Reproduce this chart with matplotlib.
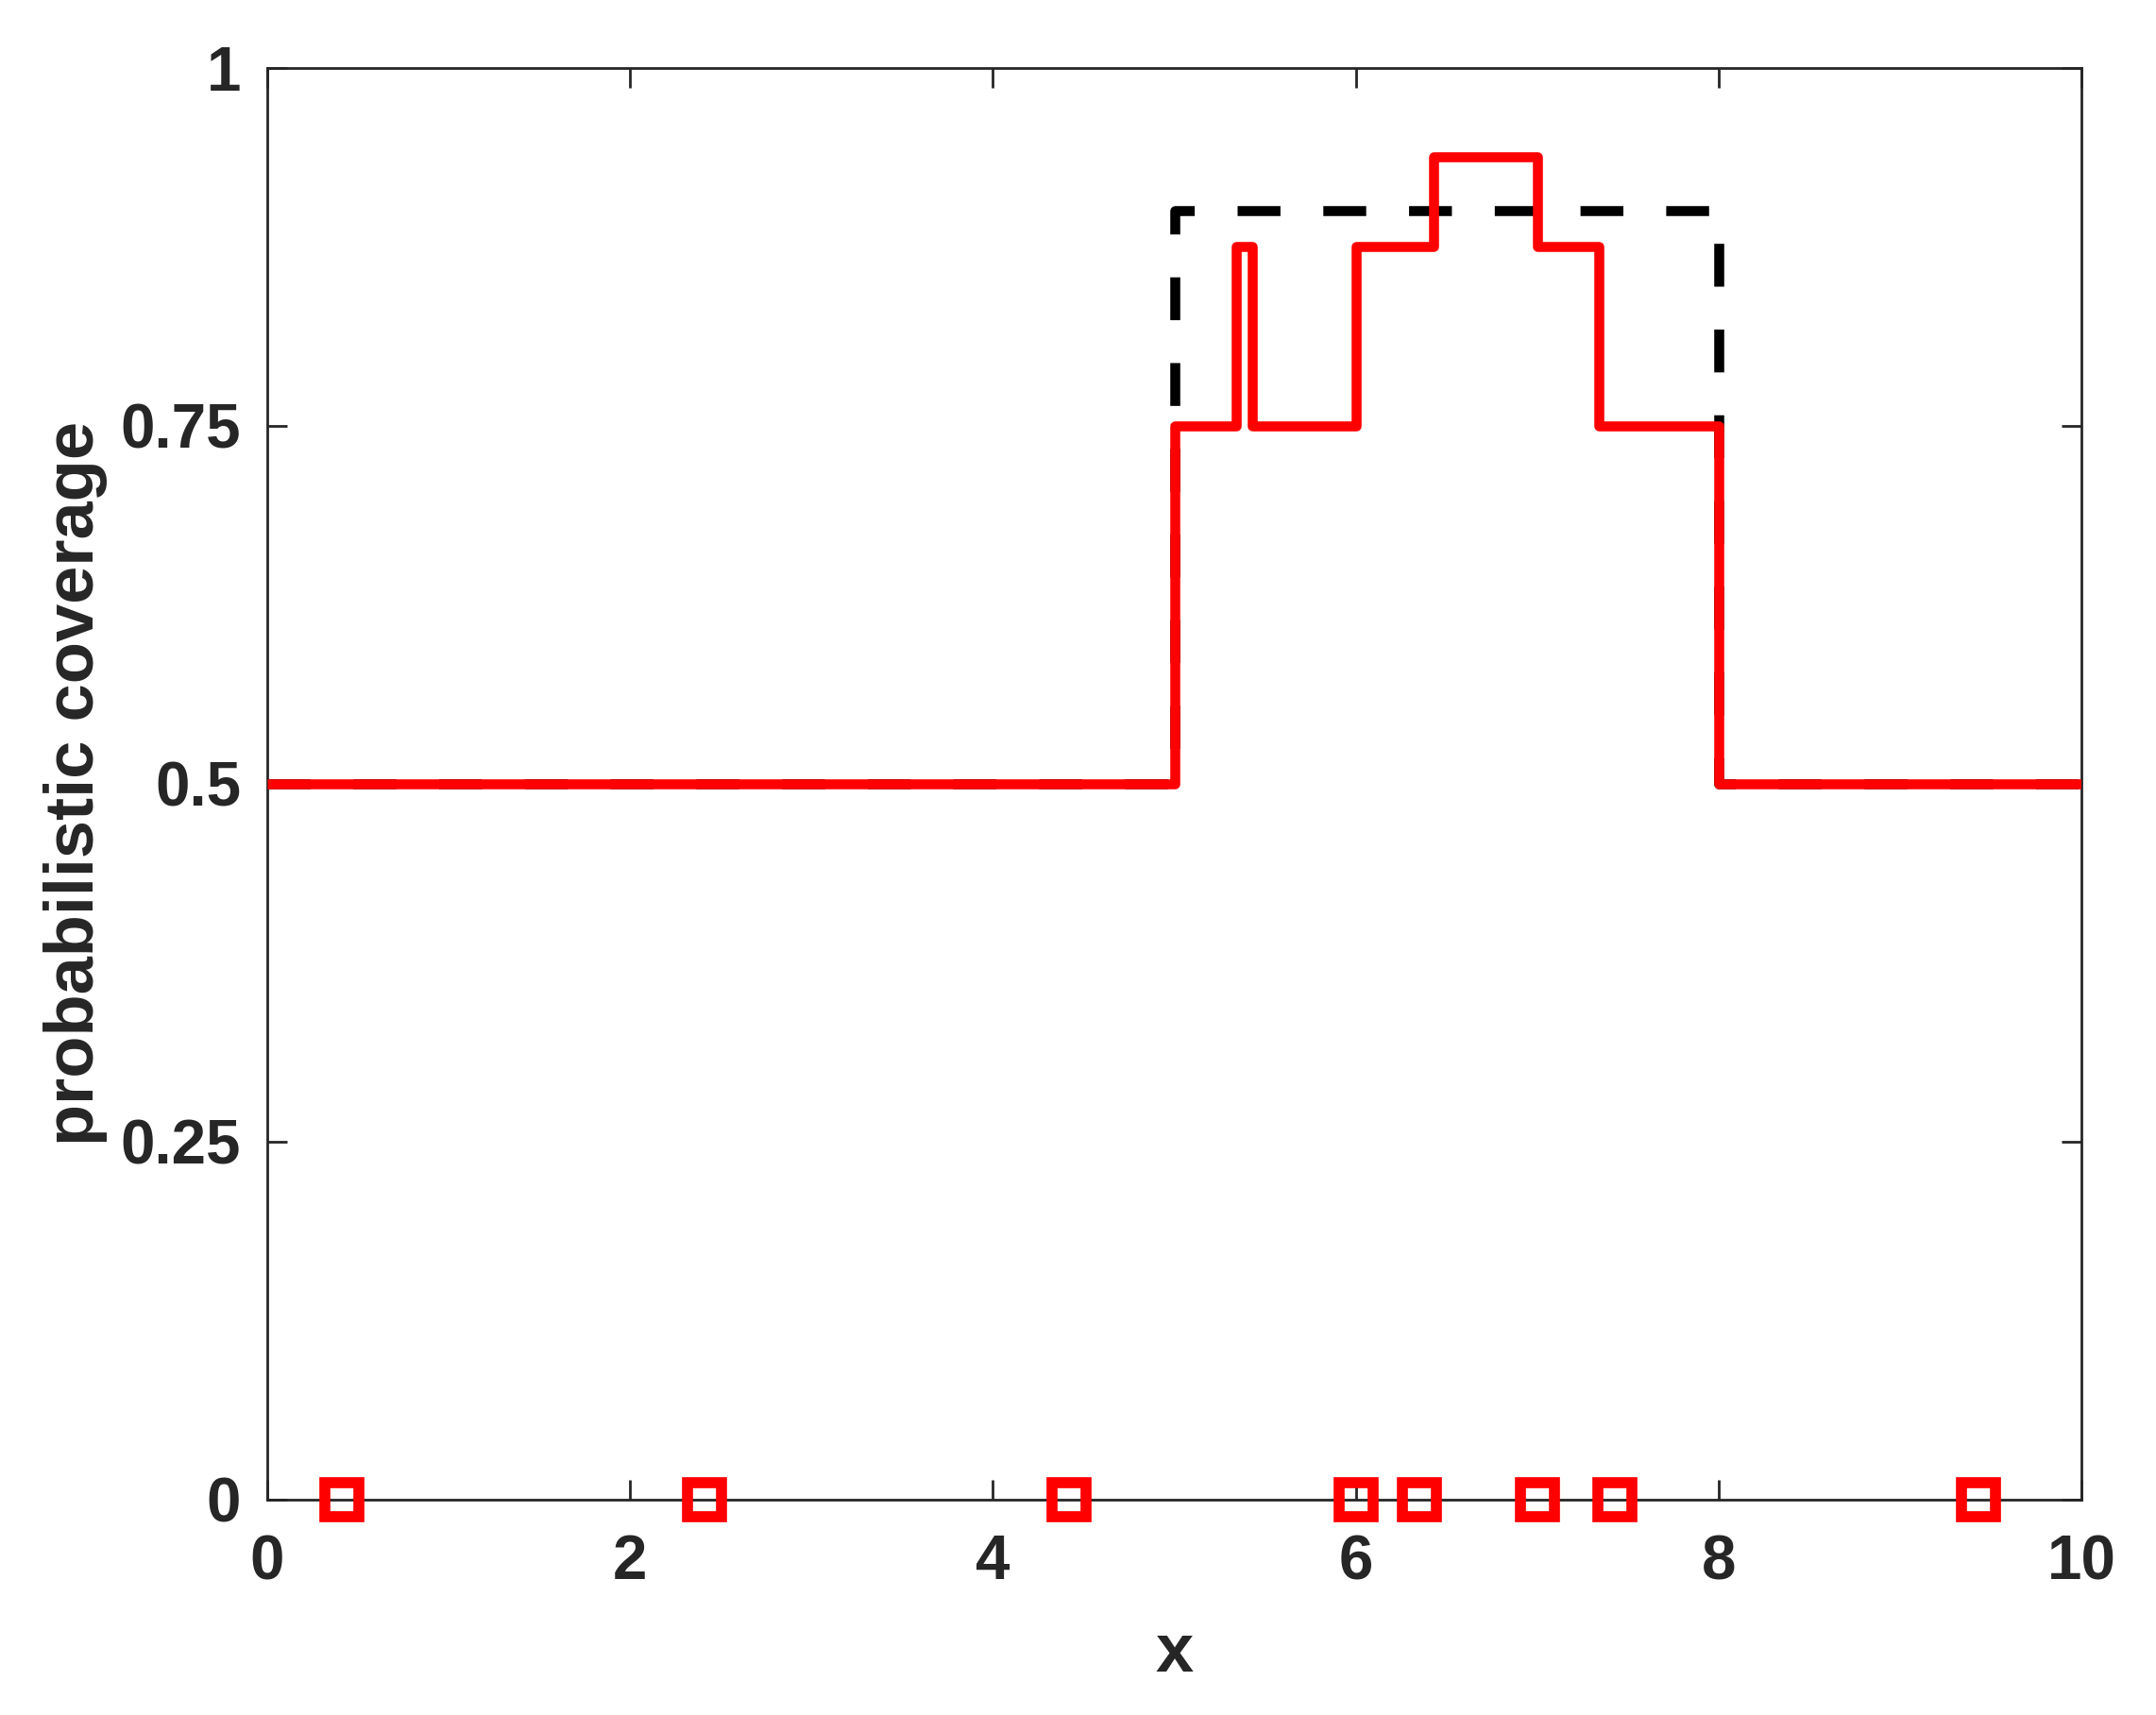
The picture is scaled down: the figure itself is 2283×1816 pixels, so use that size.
import matplotlib
matplotlib.use("Agg")
import matplotlib.pyplot as plt

# ---- data ----
step_x = [0.0, 5.0, 5.34, 5.43, 6.0, 6.43, 7.0, 7.34, 8.0, 10.0]
step_y = [0.5, 0.75, 0.875, 0.75, 0.875, 0.9375, 0.875, 0.75, 0.5, 0.5]
true_x = [0.0, 5.0, 8.0, 10.0]
true_y = [0.5, 0.9, 0.5, 0.5]
sample_x = [0.41, 2.41, 4.42, 6.0, 6.35, 7.0, 7.43, 9.43]
sample_y = [0, 0, 0, 0, 0, 0, 0, 0]
xticks = [0, 2, 4, 6, 8, 10]
yticks = [0, 0.25, 0.5, 0.75, 1]
ytick_labels = ["0", "0.25", "0.5", "0.75", "1"]

DPI = 200
TXT = "#262626"
plt.rcParams['font.family'] = ['Liberation Sans', 'DejaVu Sans']
plt.rcParams['font.weight'] = 'bold'

fig = plt.figure(figsize=(2283 / DPI, 1816 / DPI), dpi=DPI)
ax = fig.add_axes([283 / 2283, 1 - 1588 / 1816, (2204 - 283) / 2283, (1588 - 71.5) / 1816])

ax.step(true_x, true_y, where='post', color='black', lw=3.8,
        dashes=(4.3, 4.3), zorder=2)
ax.step(step_x, step_y, where='post', color='#FF0000', lw=3.8,
        solid_joinstyle='round', solid_capstyle='butt', zorder=3)
ax.plot(sample_x, sample_y, ls='none', marker='s', ms=13.1, mew=4.2,
        mfc='none', mec='#FF0000', clip_on=False, zorder=5)

ax.set_xlim(0, 10)
ax.set_ylim(0, 1)
ax.set_xticks(xticks)
ax.set_xticklabels([str(t) for t in xticks])
ax.set_yticks(yticks)
ax.set_yticklabels(ytick_labels)

for s in ax.spines.values():
    s.set_color(TXT)
    s.set_linewidth(1.0)
ax.tick_params(axis='both', direction='in', length=7.5, width=1.0, color=TXT,
               labelsize=23.6, labelcolor=TXT, top=True, right=True)
ax.tick_params(axis='y', pad=10)
ax.tick_params(axis='x', pad=13)

ax.set_xlabel('x', fontsize=26, fontweight='bold', color=TXT, labelpad=11)
ax.set_ylabel('probabilistic coverage', fontsize=26, fontweight='bold', color=TXT, labelpad=5)

fig.savefig('out.png', dpi=DPI, facecolor='white')
